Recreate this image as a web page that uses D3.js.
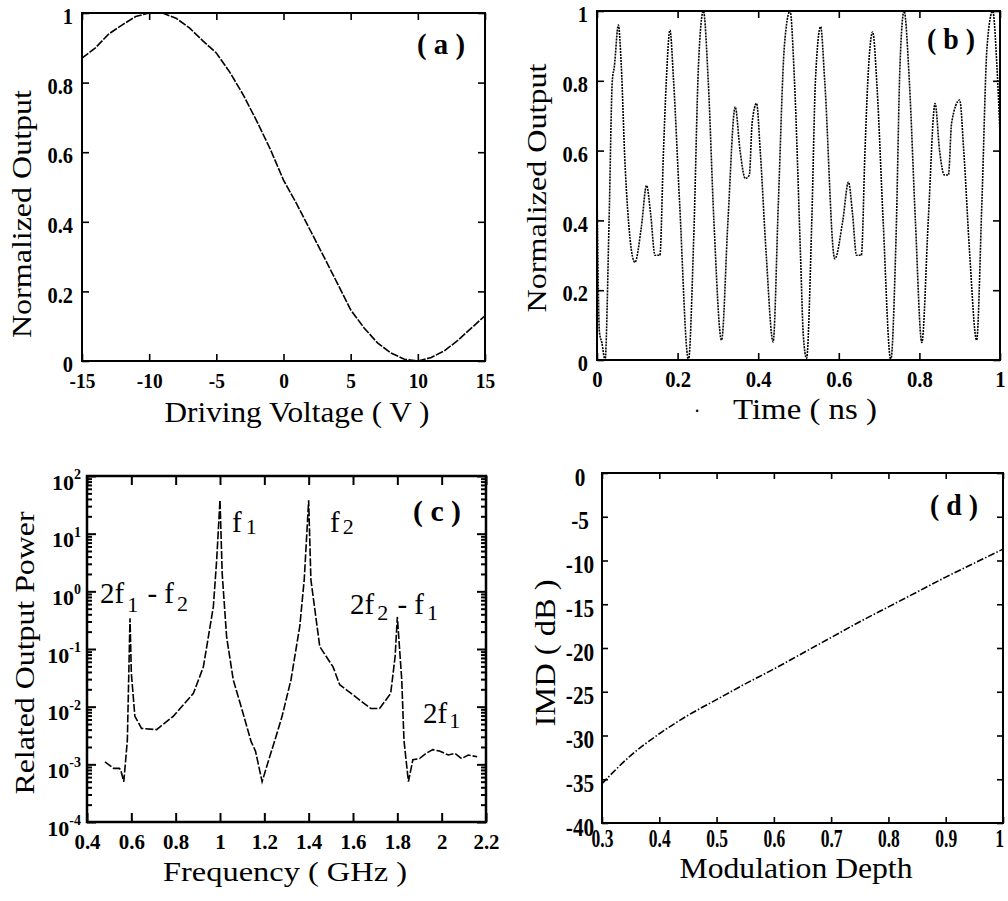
<!DOCTYPE html>
<html>
<head>
<meta charset="utf-8">
<script src="https://cdn.jsdelivr.net/npm/d3@7"></script>
<style>
  body { margin: 0; background: #fff; }
  svg { display: block; }
  text { font-family: "Liberation Serif", "DejaVu Serif", serif; }
</style>
</head>
<body>
<svg id="fig" width="1008" height="901" font-family="Liberation Serif, DejaVu Serif, serif"></svg>
<script>
// (a) output vs driving voltage
const voltA = [-15,-14,-13,-12,-11,-10,-9,-8,-7,-6,-5,-4,-3,-2,-1,0,1,2,3,4,5,6,7,8,9,10,11,12,13,14,15];
const outA = [0.87,0.90,0.94,0.966,0.99,1.0,1.0,0.985,0.957,0.92,0.885,0.83,0.765,0.69,0.61,0.52,
  0.45,0.375,0.30,0.224,0.147,0.095,0.052,0.023,0.005,0.0,0.01,0.03,0.06,0.095,0.13];

// (b) output vs time
const timeB = [0,0.006,0.012,0.02,0.03,0.038,0.043,0.053,0.06,0.07,0.094,0.11,0.123,0.133,0.144,0.156,
  0.165,0.172,0.181,0.19,0.205,0.227,0.24,0.252,0.264,0.276,0.29,0.309,0.325,0.343,0.355,0.368,0.378,
  0.385,0.396,0.405,0.42,0.437,0.45,0.465,0.479,0.49,0.505,0.512,0.52,0.533,0.542,0.555,0.565,0.59,
  0.61,0.624,0.634,0.644,0.656,0.665,0.672,0.684,0.695,0.71,0.729,0.742,0.752,0.762,0.775,0.79,0.806,
  0.822,0.839,0.85,0.862,0.872,0.88,0.9,0.91,0.925,0.942,0.955,0.968,0.982,0.992,1.0];
const outB = [0.50,0.08,0.05,0.0,0.40,0.80,0.84,0.96,0.85,0.55,0.28,0.38,0.50,0.42,0.30,0.30,
  0.60,0.80,0.945,0.80,0.45,0.0,0.35,0.85,1.0,0.80,0.40,0.057,0.40,0.725,0.60,0.52,0.53,
  0.68,0.735,0.60,0.30,0.052,0.45,0.90,1.0,0.80,0.30,0.07,0.005,0.40,0.80,0.955,0.80,0.29,
  0.40,0.51,0.42,0.30,0.30,0.60,0.80,0.94,0.78,0.40,0.0,0.35,0.85,1.0,0.80,0.40,0.05,
  0.40,0.735,0.60,0.53,0.53,0.68,0.745,0.60,0.30,0.057,0.45,0.90,1.0,0.85,0.65];

// (c) related output power spectrum
const freqC = [0.481,0.52,0.546,0.552,0.566,0.582,0.594,0.6,0.616,0.646,0.714,0.789,0.88,0.925,0.97,0.985,
  1.0,1.01,1.03,1.06,1.1,1.14,1.16,1.19,1.22,1.25,1.28,1.32,1.36,1.38,1.4,1.41,1.45,1.51,1.54,1.6,1.68,
  1.72,1.77,1.79,1.8,1.82,1.83,1.85,1.87,1.9,1.93,1.96,1.99,2.03,2.06,2.09,2.12,2.16];
const powC = [1.1e-3,8.5e-4,8.5e-4,8e-4,5e-4,2.6e-3,0.34,0.038,6.8e-3,4.2e-3,4.0e-3,6.8e-3,0.017,0.049,0.54,3.5,
  38,2.0,0.16,0.029,8.7e-3,2.5e-3,1.7e-3,5e-4,1.2e-3,2.8e-3,6.8e-3,0.029,0.25,1.6,38,1.6,0.11,0.049,0.024,0.016,9.3e-3,
  9.3e-3,0.017,0.074,0.36,0.029,2.6e-3,5e-4,1.2e-3,1.26e-3,1.55e-3,1.8e-3,1.7e-3,1.45e-3,1.55e-3,1.26e-3,1.45e-3,1.35e-3];

// (d) IMD vs modulation depth
const depthD = [0.3,0.35,0.4,0.45,0.5,0.55,0.6,0.65,0.7,0.75,0.8,0.85,0.9,0.95,1.0];
const imdD = [-35.5,-32.3,-29.8,-27.7,-25.9,-24.1,-22.4,-20.6,-18.8,-17.0,-15.3,-13.6,-11.9,-10.3,-8.7];

// tick values
const ticksAx = [-15,-10,-5,0,5,10,15];
const ticksAy = [0,0.2,0.4,0.6,0.8,1];
const ticksBx = [0,0.2,0.4,0.6,0.8,1];
const ticksBy = [0,0.2,0.4,0.6,0.8,1];
const ticksCx = [0.4,0.6,0.8,1,1.2,1.4,1.6,1.8,2,2.2];
const ticksCy = [1e-4,1e-3,1e-2,1e-1,1e0,1e1,1e2];
const ticksDx = [0.3,0.4,0.5,0.6,0.7,0.8,0.9,1];
const ticksDy = [-40,-35,-30,-25,-20,-15,-10,-5,0];

const FONT = "Liberation Serif, DejaVu Serif, serif";
const svg = d3.select("#fig");
const num = d => String(+d.toFixed(2));

const condense = (sel, k) => sel.each(function() {
  const len = this.getComputedTextLength();
  d3.select(this).attr("textLength", len * k).attr("lengthAdjust", "spacingAndGlyphs");
});

// draws a framed panel with inward ticks on all four sides
const panel = (box, x, y, o) => {
  const g = svg.append("g").attr("transform", `translate(${box.x},${box.y})`);
  const styleAxis = a => {
    a.select(".domain").remove();
    a.attr("font-family", FONT).attr("font-size", null);
    a.selectAll(".tick line").attr("stroke", "#000").attr("stroke-width", o.tw || 1.6);
  };

  const bottom = g.append("g").attr("transform", `translate(0,${box.h})`)
    .call(d3.axisBottom(x).tickValues(o.xt).tickSize(-o.tk).tickPadding(o.xpad).tickFormat(o.xf || num))
    .call(styleAxis);
  bottom.selectAll("text").attr("font-weight", "bold").attr("font-size", o.xfs).call(condense, o.xk);

  g.append("g")
    .call(d3.axisTop(x).tickValues(o.xt).tickSize(-o.tk).tickFormat(""))
    .call(styleAxis);

  const left = g.append("g")
    .call(d3.axisLeft(y).tickValues(o.yt).tickSize(-o.tk).tickPadding(o.ypad).tickFormat(o.yf || num))
    .call(styleAxis);
  left.selectAll("text").attr("font-weight", "bold").attr("font-size", o.yfs);

  g.append("g").attr("transform", `translate(${box.w},0)`)
    .call(d3.axisRight(y).tickValues(o.yt).tickSize(-o.tk).tickFormat(""))
    .call(styleAxis);

  g.append("rect")
    .attr("width", box.w).attr("height", box.h)
    .attr("fill", "none").attr("stroke", "#000").attr("stroke-width", o.fw || 2);

  return { g, left, bottom };
};

const drawLine = (g, xs, ys, x, y, dash, curve) => {
  g.append("path")
    .datum(d3.zip(xs, ys))
    .attr("fill", "none")
    .attr("stroke", "#000")
    .attr("stroke-width", 1.6)
    .attr("stroke-dasharray", dash)
    .attr("d", d3.line().x(d => x(d[0])).y(d => y(d[1])).curve(curve || d3.curveLinear));
};

const title = (x, y, txt, size, len, rot) => {
  svg.append("text")
    .attr("transform", `translate(${x},${y})` + (rot ? " rotate(-90)" : ""))
    .attr("text-anchor", "middle")
    .attr("font-family", FONT)
    .attr("font-size", size)
    .attr("textLength", len).attr("lengthAdjust", "spacingAndGlyphs")
    .text(txt);
};

const tag = (x, y, txt) => {
  svg.append("text").attr("x", x).attr("y", y)
    .attr("text-anchor", "middle").attr("font-family", FONT)
    .attr("font-weight", "bold").attr("font-size", 30)
    .attr("textLength", 48).attr("lengthAdjust", "spacingAndGlyphs")
    .text(txt);
};

// ---- (a)
const boxA = { x: 82, y: 13, w: 403, h: 348 };
const xA = d3.scaleLinear().domain([-15, 15]).range([0, boxA.w]);
const yA = d3.scaleLinear().domain([0, 1]).range([boxA.h, 0]);
const pA = panel(boxA, xA, yA, { xt: ticksAx, yt: ticksAy, tk: 7, xpad: 11, ypad: 9, xfs: 22, xk: 0.88, yfs: 24 });
pA.left.selectAll("text").attr("y", 3).call(condense, 0.85);
drawLine(pA.g, voltA, outA, xA, yA, "8,1.5");
title(297, 422, "Driving Voltage ( V )", 29, 265);
title(31, 214, "Normalized Output", 28, 248, true);
tag(441, 54, "( a )");

// ---- (b)
const boxB = { x: 597, y: 11, w: 403, h: 349 };
const xB = d3.scaleLinear().domain([0, 1]).range([0, boxB.w]);
const yB = d3.scaleLinear().domain([0, 1]).range([boxB.h, 0]);
const pB = panel(boxB, xB, yB, { xt: ticksBx, yt: ticksBy, tk: 7, xpad: 11, ypad: 9, xfs: 23, xk: 0.9, yfs: 24 });
pB.left.selectAll("text").attr("y", 3).call(condense, 0.85);
drawLine(pB.g, timeB, outB, xB, yB, "2,1", d3.curveMonotoneX);
title(805, 419, "Time ( ns )", 29, 144);
title(546, 188, "Normalized Output", 28, 249, true);
svg.append("text").attr("x", 697).attr("y", 418).attr("font-family", FONT)
  .attr("font-size", 20).attr("text-anchor", "middle").text("·");
tag(951, 49, "( b )");

// ---- (c)
const boxC = { x: 87, y: 476, w: 399, h: 346 };
const xC = d3.scaleLinear().domain([0.4, 2.2]).range([0, boxC.w]);
const yC = d3.scaleLog().domain([1e-4, 1e2]).range([boxC.h, 0]);
const pC = panel(boxC, xC, yC, {
  xt: ticksCx, yt: ticksCy, tk: 9, tw: 2, fw: 2.5, xpad: 11, ypad: 6, xfs: 22, xk: 0.95, yfs: 22,
  yf: () => "10"
});
pC.left.selectAll("text")
  .attr("y", 6)
  .append("tspan").attr("dy", "-0.75em").attr("font-size", 14)
  .text(d => Math.round(Math.log10(d)));

// minor decade ticks, both sides
const minorC = [];
ticksCy.slice(0, -1).forEach(t => { for (let k = 2; k < 10; k++) minorC.push(t * k); });
[d3.axisLeft(yC), d3.axisRight(yC)].forEach((ax, i) => {
  pC.g.append("g").attr("transform", `translate(${i ? boxC.w : 0},0)`)
    .call(ax.tickValues(minorC).tickSize(-5).tickFormat(""))
    .call(a => a.select(".domain").remove())
    .selectAll(".tick line").attr("stroke", "#000").attr("stroke-width", 2);
});
drawLine(pC.g, freqC, powC, xC, yC, "8,2");
title(285, 881, "Frequency ( GHz )", 28, 244);
title(34, 653, "Related Output Power", 28, 283, true);
tag(437, 521, "( c )");

// peak annotations
const note = (x, y, parts) => {
  const t = svg.append("text").attr("x", x).attr("y", y)
    .attr("font-family", FONT).attr("font-size", 29);
  parts.forEach(p => {
    t.append("tspan").attr("dy", p[1]).attr("dx", p[2] || 0).attr("font-size", p[3] || 29).text(p[0]);
  });
};
note(232, 532, [["f", 0], ["1", 2, 4, 22]]);
note(330, 532, [["f", 0], ["2", 2, 3, 22]]);
note(100, 603, [["2f", 0], ["1", 9, 3, 22], [" - f", -9, 2], ["2", 8, 3, 22]]);
note(350, 614, [["2f", 0], ["2", 6, 3, 22], [" - f", -6, 2], ["1", 6, 3, 22]]);
note(423, 723, [["2f", 0], ["1", 5, 2, 22]]);

// ---- (d)
const boxD = { x: 602, y: 473, w: 401, h: 350 };
const xD = d3.scaleLinear().domain([0.3, 1]).range([0, boxD.w]);
const yD = d3.scaleLinear().domain([-40, 0]).range([boxD.h, 0]);
const pD = panel(boxD, xD, yD, { xt: ticksDx, yt: ticksDy, tk: 6, xpad: 6, ypad: 22, xfs: 25, xk: 0.7, yfs: 25,
  yf: d => String(d) });
pD.left.selectAll("text").attr("text-anchor", "middle").attr("y", 4).call(condense, 0.85);
pD.bottom.selectAll("text").filter(d => d === 1).attr("dx", -4);
drawLine(pD.g, depthD, imdD, xD, yD, "7,2,1.5,2", d3.curveMonotoneX);
title(796, 878, "Modulation Depth", 29, 233);
title(555, 653, "IMD ( dB )", 29, 147, true);
tag(954, 515, "( d )");
</script>
</body>
</html>
